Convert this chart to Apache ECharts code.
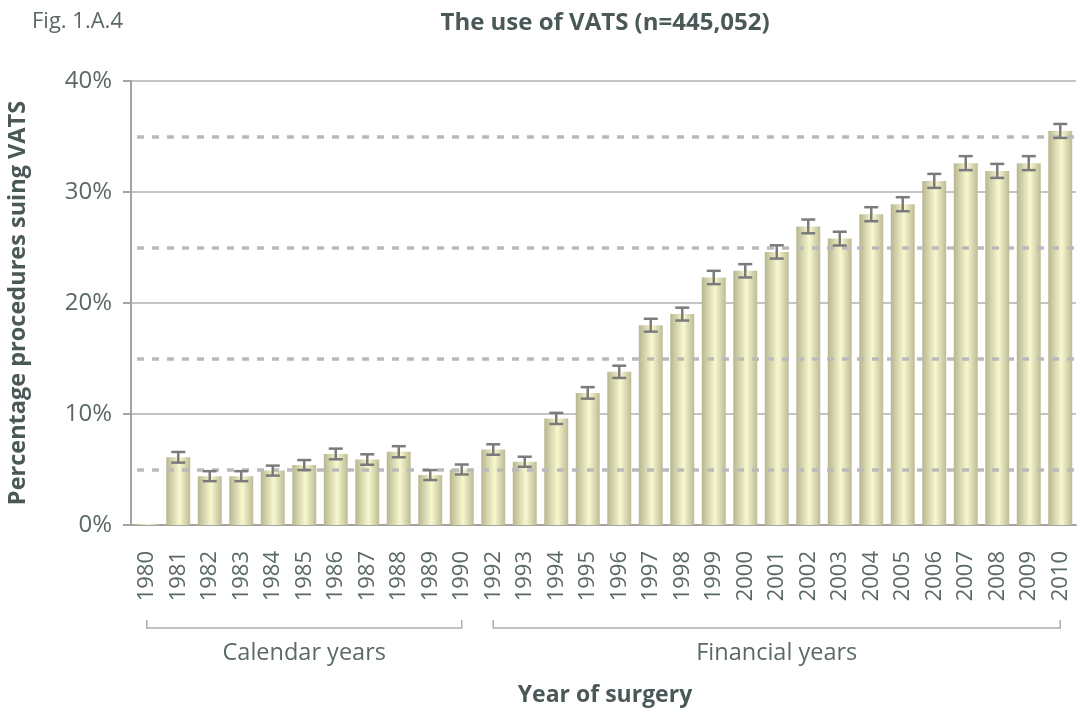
<!DOCTYPE html>
<html>
<head>
<meta charset="utf-8">
<script src="https://cdn.jsdelivr.net/npm/echarts@6.0.0/dist/echarts.min.js"></script>
<style>
  html, body { margin: 0; padding: 0; background: #fff; }
  #chart { width: 1081px; height: 709px; }
</style>
</head>
<body>
<div id="chart"></div>
<script>
// years of surgery (1991 is not in the data)
const years = ['1980', '1981', '1982', '1983', '1984', '1985', '1986', '1987', '1988', '1989', '1990',
  '1992', '1993', '1994', '1995', '1996', '1997', '1998', '1999', '2000', '2001',
  '2002', '2003', '2004', '2005', '2006', '2007', '2008', '2009', '2010'];
// percentage of procedures using VATS
const vatsPct = [0.1, 6.1, 4.4, 4.4, 4.9, 5.4, 6.4, 5.9, 6.6, 4.5, 5.0,
  6.8, 5.7, 9.6, 11.9, 13.8, 18.0, 19.0, 22.3, 22.9, 24.6,
  26.9, 25.8, 28.0, 28.9, 31.0, 32.6, 31.9, 32.6, 35.5];
// half width of the error bars (percentage points)
const vatsErr = [0, 0.48, 0.45, 0.45, 0.45, 0.45, 0.48, 0.47, 0.5, 0.45, 0.45,
  0.47, 0.45, 0.5, 0.52, 0.55, 0.58, 0.58, 0.6, 0.6, 0.6,
  0.62, 0.62, 0.63, 0.63, 0.63, 0.63, 0.63, 0.63, 0.63];
const dashedLevels = [5, 15, 25, 35];
const calendarYears = ['1980', '1990'];
const financialYears = ['1992', '2010'];

const textColor = '#5b6868';
const boldColor = '#4b5858';
const fontFamily = '"Open Sans", sans-serif';

const chart = echarts.init(document.getElementById('chart'), null, { renderer: 'canvas' });

const barFill = new echarts.graphic.LinearGradient(0, 0, 1, 0, [
  { offset: 0, color: '#b7b68f' },
  { offset: 0.55, color: '#f8f8cf' },
  { offset: 1, color: '#bcbb95' }
]);

const option = {
  animation: false,
  textStyle: { fontFamily: fontFamily },
  grid: { left: 131, right: 5, top: 81, bottom: 184, outerBoundsMode: 'none', containLabel: false },
  xAxis: {
    type: 'category',
    data: years,
    axisLine: { lineStyle: { color: '#a3a3a3', width: 2 } },
    axisTick: { alignWithLabel: false, length: 7, lineStyle: { color: '#a3a3a3', width: 2 } },
    axisLabel: { rotate: 90, fontSize: 22, color: textColor, margin: 26, fontFamily: fontFamily }
  },
  yAxis: {
    type: 'value',
    min: 0,
    max: 40,
    interval: 10,
    name: 'Percentage procedures suing VATS',
    nameLocation: 'middle',
    nameGap: 101,
    nameTextStyle: { fontSize: 23.5, fontWeight: 'bold', color: boldColor, fontFamily: fontFamily },
    axisLine: { show: true, lineStyle: { color: '#a3a3a3', width: 2 } },
    axisTick: { show: true, length: 8, lineStyle: { color: '#a3a3a3', width: 2 } },
    axisLabel: { formatter: '{value}%', fontSize: 24, color: textColor, margin: 19, fontFamily: fontFamily },
    splitLine: { lineStyle: { color: '#c4c4c4', width: 2 } }
  },
  series: [
    {
      type: 'bar',
      data: vatsPct,
      barCategoryGap: '24%',
      itemStyle: { color: barFill },
      markLine: {
        silent: true,
        symbol: 'none',
        label: { show: false },
        lineStyle: { color: '#bababa', width: 3.5, type: [7, 8], dashOffset: -6 },
        data: dashedLevels.map(v => ({ yAxis: v }))
      }
    },
    {
      type: 'custom',
      data: vatsPct.map((v, i) => [i, v, vatsErr[i]]),
      z: 5,
      renderItem: function (params, api) {
        const err = api.value(2);
        if (!err) return null;
        const i = api.value(0);
        const v = api.value(1);
        const top = api.coord([i, v + err]);
        const bot = api.coord([i, v - err]);
        const half = 7;
        const style = { stroke: '#7b7b7b', lineWidth: 2.5 };
        return {
          type: 'group',
          children: [
            { type: 'line', shape: { x1: top[0], y1: top[1], x2: bot[0], y2: bot[1] }, style: style },
            { type: 'line', shape: { x1: top[0] - half, y1: top[1], x2: top[0] + half, y2: top[1] }, style: style },
            { type: 'line', shape: { x1: bot[0] - half, y1: bot[1], x2: bot[0] + half, y2: bot[1] }, style: style }
          ]
        };
      }
    }
  ]
};

chart.setOption(option);

// brackets under the year labels, placed from the category axis
function bracket(range, label) {
  const x1 = chart.convertToPixel({ xAxisIndex: 0 }, range[0]);
  const x2 = chart.convertToPixel({ xAxisIndex: 0 }, range[1]);
  const y = 628;
  const lineStyle = { stroke: '#a9afaf', lineWidth: 1.5, fill: null };
  return [
    {
      type: 'polyline',
      shape: { points: [[x1, y - 8], [x1, y], [x2, y], [x2, y - 8]] },
      style: lineStyle
    },
    {
      type: 'text',
      x: (x1 + x2) / 2,
      y: 653,
      style: { text: label, fontSize: 23.5, fill: textColor, fontFamily: fontFamily, align: 'center', verticalAlign: 'middle' }
    }
  ];
}

chart.setOption({
  graphic: [
    {
      type: 'text', left: 32, top: 11,
      style: { text: 'Fig. 1.A.4', fontSize: 22, fill: textColor, fontFamily: fontFamily }
    },
    {
      type: 'text', x: 605, y: 23,
      style: { text: 'The use of VATS (n=445,052)', fontSize: 24, fontWeight: 'bold', fill: boldColor, fontFamily: fontFamily, align: 'center', verticalAlign: 'middle' }
    },
    {
      type: 'text', x: 605, y: 695,
      style: { text: 'Year of surgery', fontSize: 23, fontWeight: 'bold', fill: boldColor, fontFamily: fontFamily, align: 'center', verticalAlign: 'middle' }
    }
  ].concat(bracket(calendarYears, 'Calendar years'), bracket(financialYears, 'Financial years'))
});

window.addEventListener('resize', function () {
  chart.resize();
});
</script>
</body>
</html>
